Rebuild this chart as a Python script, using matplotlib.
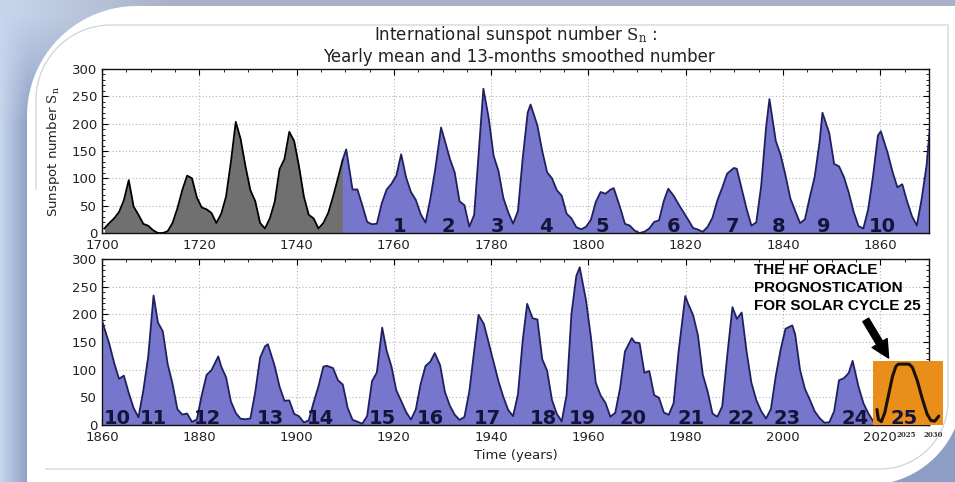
import numpy as np
import matplotlib
matplotlib.use("Agg")
import matplotlib.pyplot as plt
from matplotlib.patches import PathPatch, Rectangle
from matplotlib.path import Path
from matplotlib.ticker import MultipleLocator

plt.rcParams['font.family'] = ['DejaVu Sans']
plt.rcParams['mathtext.fontset'] = 'dejavuserif'

# ---------------------------------------------------------------- data
# Yearly mean sunspot number, 1700 .. 2019
first_year = 1700
yearly_mean = [
    8.3, 18.3, 26.7, 38.3, 60.0, 96.7, 48.3, 33.3, 16.7, 13.3,          # 1700
    5.0, 0.0, 0.0, 3.3, 18.3, 45.0, 78.3, 105.0, 100.0, 65.0,            # 1710
    46.7, 43.3, 36.7, 18.3, 35.0, 66.7, 130.0, 203.3, 171.7, 121.7,      # 1720
    78.3, 58.3, 18.3, 8.3, 26.7, 56.7, 116.7, 135.0, 185.0, 168.3,       # 1730
    121.7, 66.7, 33.3, 26.7, 8.3, 18.3, 36.7, 66.7, 100.0, 134.8,        # 1740
    139.0, 79.5, 79.7, 51.2, 20.3, 16.0, 17.0, 54.0, 79.3, 90.0,         # 1750
    104.8, 143.2, 102.0, 75.2, 60.7, 34.8, 19.0, 63.0, 116.3, 176.8,     # 1760
    168.0, 136.0, 110.8, 58.0, 51.0, 11.7, 33.0, 154.2, 257.3, 209.8,    # 1770
    141.3, 113.5, 64.2, 38.0, 17.0, 40.2, 138.2, 220.0, 218.2, 196.8,    # 1780
    149.8, 111.0, 100.0, 78.2, 68.3, 35.5, 26.7, 10.7, 6.8, 11.3,        # 1790
    24.2, 56.7, 75.0, 71.8, 79.2, 70.3, 46.8, 16.8, 13.5, 4.2,           # 1800
    0.0, 2.3, 8.3, 20.3, 23.2, 59.0, 76.3, 68.3, 52.9, 38.5,             # 1810
    24.2, 9.2, 6.3, 2.2, 11.4, 28.2, 59.9, 83.0, 108.5, 115.2,           # 1820
    117.4, 80.8, 44.3, 13.4, 19.5, 85.8, 192.7, 227.3, 168.7, 143.0,     # 1830
    105.5, 63.3, 40.3, 18.1, 25.1, 65.8, 102.7, 166.3, 208.3, 182.5,     # 1840
    126.3, 122.0, 102.7, 74.1, 39.0, 12.7, 8.2, 43.4, 104.4, 178.3,      # 1850
    182.2, 146.6, 112.1, 83.5, 89.2, 57.8, 30.7, 13.9, 62.8, 123.6,      # 1860
    232.0, 185.3, 169.2, 110.1, 74.5, 28.3, 18.9, 20.7, 5.7, 10.0,       # 1870
    53.7, 90.5, 99.0, 106.1, 105.8, 86.3, 42.4, 21.8, 11.2, 10.4,        # 1880
    11.8, 59.5, 121.7, 142.0, 130.0, 106.6, 69.4, 43.8, 44.4, 20.2,      # 1890
    15.7, 4.6, 8.5, 40.8, 70.1, 105.5, 90.1, 102.8, 80.9, 73.2,          # 1900
    30.9, 9.5, 6.0, 2.4, 16.1, 79.0, 95.0, 173.6, 134.6, 105.7,          # 1910
    62.7, 43.5, 23.7, 9.7, 27.9, 74.0, 106.5, 114.7, 129.7, 108.2,       # 1920
    59.4, 35.1, 18.6, 9.2, 14.6, 60.2, 132.8, 190.6, 182.6, 148.0,       # 1930
    113.0, 79.2, 50.8, 27.1, 16.1, 55.3, 154.3, 214.7, 193.0, 190.7,     # 1940
    118.9, 98.3, 45.0, 20.1, 6.6, 54.2, 200.7, 269.3, 261.7, 225.1,      # 1950
    159.0, 76.4, 53.4, 39.9, 15.0, 22.0, 66.8, 132.9, 150.2, 149.4,      # 1960
    148.0, 94.4, 97.6, 54.1, 49.2, 22.5, 18.4, 39.3, 131.0, 220.1,       # 1970
    218.9, 198.9, 162.4, 91.0, 60.5, 20.6, 14.8, 33.9, 123.0, 211.1,     # 1980
    191.8, 203.3, 133.0, 76.1, 44.9, 25.1, 11.6, 28.9, 88.3, 136.3,      # 1990
    173.9, 170.4, 163.6, 99.3, 65.3, 45.8, 24.7, 12.6, 4.2, 4.8,         # 2000
    24.9, 80.8, 84.5, 94.0, 113.3, 69.8, 39.8, 21.7, 7.0, 3.6,           # 2010
]

# start of the 13-month smoothed record (blue), earlier values are yearly (grey)
smoothed_start = 1749.5

# smoothed maxima of each solar cycle (cycle 0 .. 24)
peak_years = [1750.2, 1761.5, 1769.7, 1778.4, 1788.1, 1805.2, 1816.4, 1829.9,
              1837.2, 1848.1, 1860.1, 1870.6, 1883.9, 1894.1, 1906.2, 1917.6,
              1928.4, 1937.4, 1947.4, 1958.2, 1968.9, 1979.9, 1989.6, 2001.9,
              2014.3]
peak_values = [153, 144, 193, 264, 235, 82, 81, 119, 245, 220, 186, 234, 124,
               146, 107, 176, 130, 199, 219, 285, 157, 233, 213, 180, 116]

# cycle numbers written along the bottom of each panel
cycles_top = ["1", "2", "3", "4", "5", "6", "7", "8", "9", "10"]
cycles_top_x = [1761.1, 1771.2, 1781.3, 1791.2, 1802.9, 1817.5, 1829.6,
                1839.1, 1848.4, 1860.5]
cycles_bottom = ["10", "11", "12", "13", "14", "15", "16", "17", "18", "19",
                 "20", "21", "22", "23", "24", "25"]
cycles_bottom_x = [1863.1, 1870.5, 1881.6, 1894.6, 1904.9, 1917.6, 1927.5,
                   1939.2, 1950.7, 1958.8, 1969.1, 1981.0, 1991.3, 2000.9,
                   2014.9, 2024.8]

# forecast for cycle 25
forecast_years = [2019.3, 2019.6, 2020.2, 2020.9, 2021.7, 2022.5, 2023.2,
                  2023.7, 2025.9, 2026.6, 2027.6, 2028.6, 2029.6, 2030.4,
                  2031.2, 2032.0]
forecast_values = [28, 10, 6, 22, 55, 88, 106, 110, 110, 104, 80, 48, 20, 8,
                   7, 16]
forecast_box = (2018.4, 2032.8, 116)      # x0, x1, height
forecast_labels = ["2025", "2030"]
forecast_label_x = [2025.4, 2030.9]

panel_ranges = [(1700, 1870), (1860, 2030)]

# ---------------------------------------------------------------- series
years = np.arange(first_year, first_year + len(yearly_mean)) + 0.5
yearly = np.array(yearly_mean, dtype=float)

grey_mask = years <= smoothed_start
grey_x, grey_y = years[grey_mask], yearly[grey_mask]

blue_mask = years >= smoothed_start
bx, by = years[blue_mask], yearly[blue_mask]
near_peak = np.zeros_like(bx, dtype=bool)
for p in peak_years:
    near_peak |= (np.abs(bx - p) < 0.5) & (np.abs(bx - smoothed_start) > 1e-6)
bx = np.concatenate([bx[~near_peak], peak_years])
by = np.concatenate([by[~near_peak], peak_values])
order = np.argsort(bx)
blue_x, blue_y = bx[order], by[order]

# ---------------------------------------------------------------- figure
W, H = 955, 482
fig = plt.figure(figsize=(W / 100, H / 100), dpi=100)

# slide background with a rounded white card
bg = fig.add_axes([0, 0, 1, 1])
bg.set_xlim(0, W)
bg.set_ylim(H, 0)
bg.axis('off')
bg.set_zorder(0)

xx = np.arange(W)[None, :, None].astype(float)
yy = np.arange(H)[:, None, None].astype(float)
light = np.array([0.78, 0.84, 0.93])
top_tone = np.array([0.66, 0.70, 0.78])
dark = np.array([0.55, 0.62, 0.77])
w = np.clip((yy - 15) / 110, 0, 1)
c_top = light + (top_tone - light) * np.clip(xx / 170, 0, 1)
c_side = light + (dark - light) * np.clip(xx / 28, 0, 1)
img = c_top * (1 - w) + c_side * w
bg.imshow(img, extent=(0, W, H, 0), aspect='auto', zorder=0)


def arc(cx, cy, r, a0, a1, n=40):
    t = np.radians(np.linspace(a0, a1, n))
    return np.column_stack([cx + r * np.cos(t), cy + r * np.sin(t)])


card = np.vstack([
    [[27, 520]],
    arc(137, 116, 110, 180, 270),
    [[963, 6]],
    arc(868, 390, 95, 0, 90),
    [[27, 520]],
])
bg.add_patch(PathPatch(Path(card), facecolor='white', edgecolor='none',
                       zorder=1))

frame = np.vstack([
    [[36, 190]],
    arc(111, 100, 75, 180, 270),
    [[948, 25]],
    arc(880, 401, 68, 0, 90),
    [[45, 469]],
])
bg.add_patch(PathPatch(Path(frame), facecolor='none', edgecolor='#cdd3de',
                       lw=0.9, zorder=2))

# ---------------------------------------------------------------- panels
fill_blue = '#7676cc'
line_blue = '#20205e'
label_col = '#14143a'

axes_rect = [
    [102 / W, 1 - 233 / H, 827 / W, 164 / H],
    [102 / W, 1 - 425 / H, 827 / W, 166 / H],
]

axes = []
for rect, (x0, x1) in zip(axes_rect, panel_ranges):
    ax = fig.add_axes(rect)
    ax.set_zorder(2)
    ax.set_facecolor('white')
    ax.set_xlim(x0, x1)
    ax.set_ylim(0, 300)
    ax.set_axisbelow(True)
    ax.fill_between(grey_x, grey_y, color='#707070', lw=0, zorder=2)
    ax.plot(grey_x, grey_y, color='black', lw=1.3, zorder=3)
    ax.fill_between(blue_x, blue_y, color=fill_blue, lw=0, zorder=2)
    ax.plot(blue_x, blue_y, color=line_blue, lw=1.3, zorder=3)
    ax.xaxis.set_major_locator(MultipleLocator(20))
    ax.xaxis.set_minor_locator(MultipleLocator(5))
    ax.yaxis.set_major_locator(MultipleLocator(50))
    ax.yaxis.set_minor_locator(MultipleLocator(10))
    ax.tick_params(which='both', direction='in', top=True, right=True,
                   colors='black', labelcolor='#222222', labelsize=9.5)
    ax.tick_params(which='major', length=4, width=0.8)
    ax.tick_params(which='minor', length=2, width=0.6)
    ax.tick_params(axis='x', pad=4.5)
    ax.grid(True, which='major', color='#b4b4b4', lw=0.8,
            linestyle=(0, (1, 2)))
    for s in ax.spines.values():
        s.set_linewidth(1.0)
        s.set_color('#111111')
    axes.append(ax)

ax_top, ax_bot = axes

for lab, x in zip(cycles_top, cycles_top_x):
    ax_top.text(x, 1, lab, ha='center', va='baseline', fontsize=14,
                fontweight='bold', color=label_col, zorder=5)

# forecast inset
bx0, bx1, bh = forecast_box
ax_bot.add_patch(Rectangle((bx0, 0), bx1 - bx0, bh, facecolor='#e98f19',
                           edgecolor='none', clip_on=False, zorder=4))
ax_bot.plot(forecast_years, forecast_values, color='#1a1008', lw=2.2,
            clip_on=False, zorder=5, solid_capstyle='round')
for lab, x in zip(forecast_labels, forecast_label_x):
    ax_bot.text(x, -18, lab, ha='center', va='center', fontsize=5,
                fontweight='bold', color='#333333', clip_on=False,
                family='DejaVu Serif')

for lab, x in zip(cycles_bottom, cycles_bottom_x):
    ax_bot.text(x, 1, lab, ha='center', va='baseline', fontsize=14,
                fontweight='bold', color=label_col, zorder=6)

ax_bot.text(1994.0, 293, "THE HF ORACLE\nPROGNOSTICATION\nFOR SOLAR CYCLE 25",
            ha='left', va='top', fontsize=11, fontweight='bold',
            family='Liberation Sans', color='black', linespacing=1.35,
            zorder=6)
ax_bot.annotate("", xy=(2021.7, 121), xytext=(2017.0, 190),
                arrowprops=dict(arrowstyle='simple,head_length=0.9,'
                                'head_width=0.9,tail_width=0.35',
                                color='black', mutation_scale=14,
                                shrinkA=0, shrinkB=0),
                annotation_clip=False, zorder=6)

# titles and axis labels
fig.text(516 / W, 1 - 35 / H,
         r"International sunspot number $\mathrm{S}_\mathrm{n}$ :",
         ha='center', va='center', fontsize=12, color='#222222')
fig.text(519 / W, 1 - 57 / H, "Yearly mean and 13-months smoothed number",
         ha='center', va='center', fontsize=12, color='#222222')
fig.text(53 / W, 1 - 152 / H, r"Sunspot number $\mathrm{S}_\mathrm{n}$",
         rotation=90, ha='center', va='center', fontsize=9.5,
         color='#222222')
fig.text(516 / W, 1 - 455 / H, "Time (years)", ha='center', va='center',
         fontsize=9.5, color='#222222')

fig.savefig("out.png", dpi=100)
